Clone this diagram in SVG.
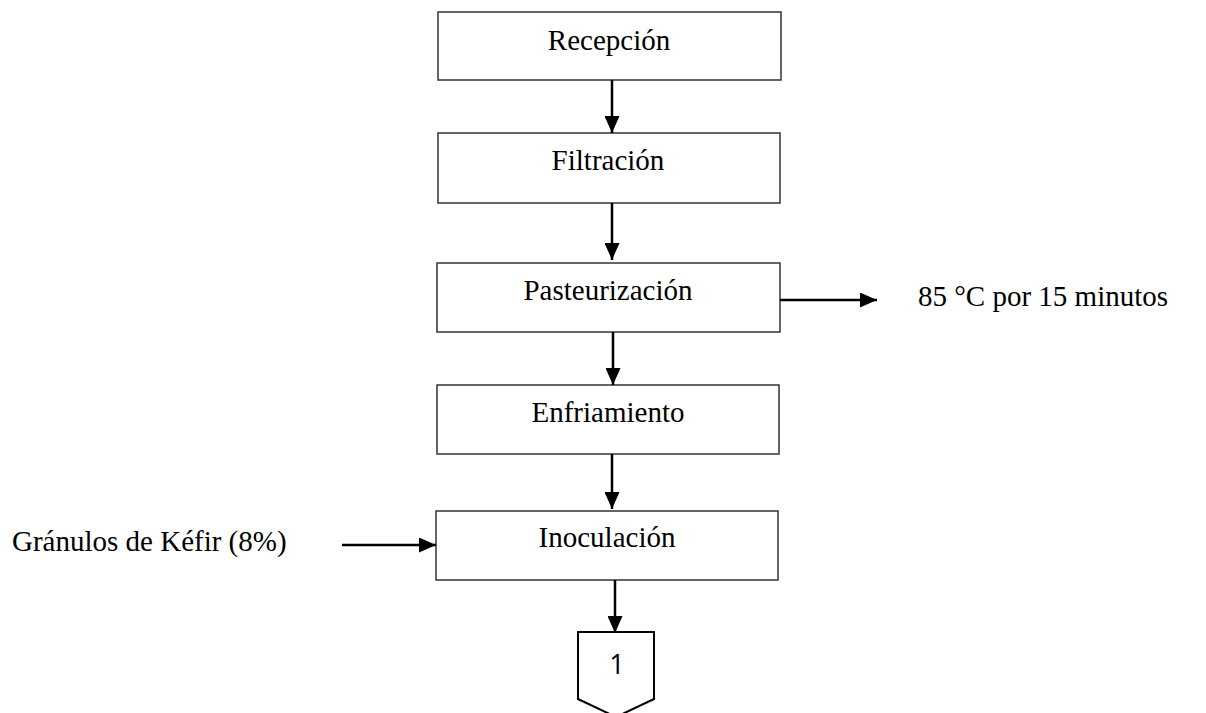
<svg xmlns="http://www.w3.org/2000/svg" width="1206" height="713" viewBox="0 0 1206 713">
  <defs>
    <style>
      .box { fill: #ffffff; stroke: #333333; stroke-width: 1.5; }
      .lbl { font-family: "Liberation Serif", "Times New Roman", serif; font-size: 29px; fill: #000000; }
      .flow { stroke: #000000; stroke-width: 2.5; fill: none; marker-end: url(#head); }
      .conn { fill: #ffffff; stroke: #000000; stroke-width: 2; }
      .num { font-family: "Open Sans", "Liberation Sans", Arial, sans-serif; font-size: 27px; fill: #000000; }
    </style>
    <marker id="head" viewBox="0 0 17 15" refX="17" refY="7.5" markerWidth="17" markerHeight="15" markerUnits="userSpaceOnUse" orient="auto">
      <path d="M0,0 L17,7.5 L0,15 Z" fill="#000000"/>
    </marker>
  </defs>

  <rect width="1206" height="713" fill="#ffffff"/>

  <!-- process steps -->
  <g id="recepcion">
    <rect class="box" x="438" y="12" width="343" height="68"/>
    <text class="lbl" x="609" y="50" text-anchor="middle">Recepción</text>
  </g>
  <g id="filtracion">
    <rect class="box" x="438" y="133" width="342" height="70"/>
    <text class="lbl" x="608" y="170" text-anchor="middle">Filtración</text>
  </g>
  <g id="pasteurizacion">
    <rect class="box" x="437" y="263" width="343" height="69"/>
    <text class="lbl" x="608" y="300" text-anchor="middle">Pasteurización</text>
  </g>
  <g id="enfriamiento">
    <rect class="box" x="437" y="385" width="342" height="69"/>
    <text class="lbl" x="608" y="422" text-anchor="middle">Enfriamiento</text>
  </g>
  <g id="inoculacion">
    <rect class="box" x="436" y="511" width="342" height="69"/>
    <text class="lbl" x="607" y="547" text-anchor="middle">Inoculación</text>
  </g>

  <!-- side notes -->
  <g id="condicion">
    <text class="lbl" x="918" y="306">85 °C por 15 minutos</text>
  </g>
  <g id="granulos">
    <text class="lbl" x="12" y="551">Gránulos de Kéfir (8%)</text>
  </g>

  <!-- off-page connector -->
  <g id="conector-1">
    <path class="conn" d="M578,632 L654,632 L654,699 L616,717 L578,699 Z"/>
    <text class="num" x="617" y="674" text-anchor="middle">1</text>
  </g>

  <!-- flow lines -->
  <g id="connectors">
    <line class="flow" x1="612" y1="80" x2="612" y2="133"/>
    <line class="flow" x1="612" y1="203" x2="612" y2="260"/>
    <line class="flow" x1="613" y1="332" x2="613" y2="385"/>
    <line class="flow" x1="612" y1="454" x2="612" y2="509"/>
    <line class="flow" x1="615" y1="580" x2="615" y2="633"/>
    <line class="flow" x1="780" y1="300" x2="877" y2="300"/>
    <line class="flow" x1="342" y1="545" x2="436" y2="545"/>
  </g>
</svg>
